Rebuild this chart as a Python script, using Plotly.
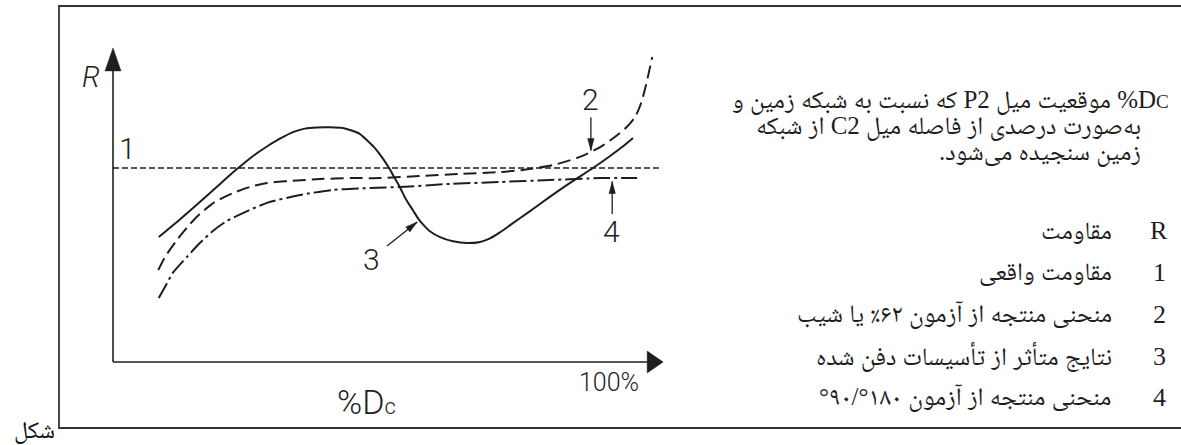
import math
import plotly.graph_objects as go

# ---------------- data (x: %Dc, y: R relative to true resistance) ----------------
curve3_x = [8.8, 12.9, 16.7, 20.2, 23.5, 26.7, 29.6, 32.1, 34.6, 36.9, 39.2, 41.7, 44.2, 45.9,
            47.5, 48.8, 50.2, 51.5, 53.1, 54.0, 55.0, 56.3, 57.7, 58.8, 60.0, 61.0, 62.9, 65.4,
            68.1, 70.6, 72.5, 74.4, 76.3, 80.2, 84.0, 87.9, 92.3, 95.6, 97.9, 100.0]
curve3_y = [0.644, 0.736, 0.825, 0.909, 0.987, 1.057, 1.111, 1.151, 1.185, 1.203, 1.209, 1.210,
            1.206, 1.193, 1.175, 1.144, 1.108, 1.064, 1.000, 0.956, 0.910, 0.840, 0.781, 0.735,
            0.698, 0.673, 0.644, 0.622, 0.613, 0.619, 0.637, 0.668, 0.704, 0.778, 0.851, 0.923,
            1.000, 1.062, 1.108, 1.155]

curve2_x = [8.7, 10.0, 12.3, 14.8, 16.7, 19.6, 23.1, 26.3, 29.6, 34.0, 39.8, 45.6, 51.3, 59.0,
            66.7, 74.4, 78.8, 84.6, 89.8, 93.7, 96.5, 98.8, 100.4, 101.5, 102.5, 103.7]
curve2_y = [0.474, 0.541, 0.629, 0.711, 0.763, 0.825, 0.871, 0.902, 0.923, 0.933, 0.943, 0.948,
            0.948, 0.959, 0.969, 0.979, 0.990, 1.015, 1.057, 1.108, 1.160, 1.211, 1.263, 1.330,
            1.428, 1.572]

curve4_x = [8.8, 10.2, 11.5, 14.2, 16.7, 19.2, 21.9, 25.4, 29.6, 36.0, 42.3, 49.4, 55.2, 64.8,
            74.4, 84.0, 93.7, 100.8]
curve4_y = [0.330, 0.397, 0.459, 0.541, 0.613, 0.675, 0.727, 0.773, 0.820, 0.861, 0.887, 0.897,
            0.902, 0.918, 0.928, 0.938, 0.948, 0.948]

true_x = [0.0, 105.6]
true_y = [1.0, 1.0]

axis_x_end = 105.8
axis_y_end = 1.619

# label texts and positions (data units)
label_text = ["1", "2", "3", "4"]
label_x = [2.7, 91.9, 49.8, 95.8]
label_y = [1.103, 1.351, 0.526, 0.675]
# leader arrows for labels 2, 3, 4 (tail -> tip)
arrow_tail = [(91.9, 1.262), (52.7, 0.598), (96.0, 0.763)]
arrow_tip = [(91.9, 1.090), (58.5, 0.722), (96.0, 0.930)]

legend_keys = ["R", "1", "2", "3", "4"]
legend_vals = ["مقاومت", "مقاومت واقعی", "منحنی منتجه از آزمون ۶۲٪ یا شیب",
               "نتایج متأثر از تأسیسات دفن شده", "منحنی منتجه از آزمون ۱۸۰°/۹۰°"]
para_lines = ["D<span style='font-size:19px'>C</span>% موقعیت میل P2 که نسبت به شبکه زمین و",
              "به‌صورت درصدی از فاصله میل C2 از شبکه",
              "زمین سنجیده می‌شود."]

# ---------------- geometry ----------------
W, H = 1181, 445
PX0, PXS = 113.0, 5.2     # pixel of 0 %, pixels per 1 %
PY0, PYS = 362.0, 194.0   # pixel of R=0, pixels per R unit
x_range = [(0 - PX0) / PXS, (W - PX0) / PXS]
y_range = [(PY0 - H) / PYS, PY0 / PYS]

INK = "#1e1e1e"
RLE, PDF = "\u202b", "\u202c"
NUM_FONT = "Roboto, DejaVu Sans, sans-serif"
FA_FONT = "Liberation Serif, Noto Naskh Arabic, DejaVu Sans, serif"
FA_SIZE = 25

fig = go.Figure()


def add_line(x, y, dash, width=2.0, shape="spline"):
    fig.add_trace(go.Scatter(x=x, y=y, mode="lines", hoverinfo="skip",
                             line=dict(color=INK, width=width, dash=dash, shape=shape,
                                       smoothing=0.7)))


add_line(true_x, true_y, "6px,3px", width=1.4, shape="linear")
add_line(curve4_x, curve4_y, "17px,4px,3px,4px")
add_line(curve2_x, curve2_y, "13px,6px")
add_line(curve3_x, curve3_y, "solid")
# axes
add_line([0, 0], [0, axis_y_end - 10 / PYS], "solid", width=1.6, shape="linear")
add_line([0, axis_x_end - 8 / PXS], [0, 0], "solid", width=1.6, shape="linear")

shapes = []


def tri(tip, direction, length_px, half_px):
    """filled triangle arrowhead; direction is a pixel vector (dx, dy) pointing to the tip"""
    dx, dy = direction
    n = math.hypot(dx, dy)
    ux, uy = dx / n, dy / n
    px, py = -uy, ux
    tx = PX0 + tip[0] * PXS
    ty = PY0 - tip[1] * PYS
    bx, by = tx - ux * length_px, ty - uy * length_px
    pts = [(tx, ty), (bx + px * half_px, by + py * half_px), (bx - px * half_px, by - py * half_px)]
    dpts = [((a - PX0) / PXS, (PY0 - b) / PYS) for a, b in pts]
    path = "M {} {} L {} {} L {} {} Z".format(*[v for p in dpts for v in p])
    return dict(type="path", path=path, xref="x", yref="y", fillcolor=INK,
                line=dict(color=INK, width=0.5))


# axis arrowheads
shapes.append(tri((0, axis_y_end), (0, -1), 23, 8))
shapes.append(tri((axis_x_end, 0), (1, 0), 16, 11))

# leader arrows
for (tx0, ty0), (tx1, ty1) in zip(arrow_tail, arrow_tip):
    shapes.append(dict(type="line", xref="x", yref="y", x0=tx0, y0=ty0, x1=tx1, y1=ty1,
                       line=dict(color=INK, width=1.3)))
    d = ((tx1 - tx0) * PXS, -(ty1 - ty0) * PYS)
    shapes.append(tri((tx1, ty1), d, 12, 3.2))

# outer frame (right side runs past the picture edge)
shapes.append(dict(type="rect", xref="paper", yref="paper", x0=59 / W, x1=1.02,
                   y0=1 - 428 / H, y1=1 - 6 / H, line=dict(color="#333333", width=1.8)))

ann = []
for t, x, y in zip(label_text, label_x, label_y):
    ann.append(dict(text=t, x=x, y=y, xref="x", yref="y", showarrow=False,
                    font=dict(family=NUM_FONT, size=30, color=INK, weight=300)))
ann.append(dict(text="R", x=-4.2, y=1.469, xref="x", yref="y", showarrow=False,
                font=dict(family=NUM_FONT, size=29, color=INK, style="italic", weight=300)))
ann.append(dict(text="100%", x=95.4, y=-0.108, xref="x", yref="y", showarrow=False,
                font=dict(family=NUM_FONT, size=25, color=INK, weight=300)))
ann.append(dict(text="%D<span style='font-size:22px'>c</span>", x=48.8, y=-0.205,
                xref="x", yref="y", showarrow=False,
                font=dict(family=NUM_FONT, size=34, color=INK, weight=300)))

# right-hand explanatory text
para_right = [1171, 1143, 1143]
para_y = [100, 126, 152]
for t, xr, yp in zip(para_lines, para_right, para_y):
    ann.append(dict(text=RLE + t + PDF, x=xr / W, y=1 - yp / H, xref="paper", yref="paper",
                    xanchor="right", yanchor="middle", showarrow=False,
                    font=dict(family=FA_FONT, size=FA_SIZE, color=INK)))
list_y = [230, 272, 314, 356, 397]
for k, v, yp in zip(legend_keys, legend_vals, list_y):
    ann.append(dict(text=k, x=1159 / W, y=1 - yp / H, xref="paper", yref="paper",
                    xanchor="center", yanchor="middle", showarrow=False,
                    font=dict(family=FA_FONT, size=26, color=INK)))
    ann.append(dict(text=RLE + v + PDF, x=1114 / W, y=1 - yp / H, xref="paper", yref="paper",
                    xanchor="right", yanchor="middle", showarrow=False,
                    font=dict(family=FA_FONT, size=FA_SIZE, color=INK)))

ann.append(dict(text="شکل", x=57 / W, y=1 - 430 / H, xref="paper", yref="paper",
                xanchor="right", yanchor="middle", showarrow=False,
                font=dict(family=FA_FONT, size=24, color="#111111")))

fig.update_layout(
    width=W, height=H, autosize=False,
    margin=dict(l=0, r=0, t=0, b=0, pad=0),
    paper_bgcolor="white", plot_bgcolor="white",
    showlegend=False,
    xaxis=dict(range=x_range, visible=False, fixedrange=True),
    yaxis=dict(range=y_range, visible=False, fixedrange=True),
    shapes=shapes, annotations=ann,
)

fig.write_html("out.html", config={"displayModeBar": False},
               post_script="document.body.style.margin='0';document.body.style.overflow='hidden';")
